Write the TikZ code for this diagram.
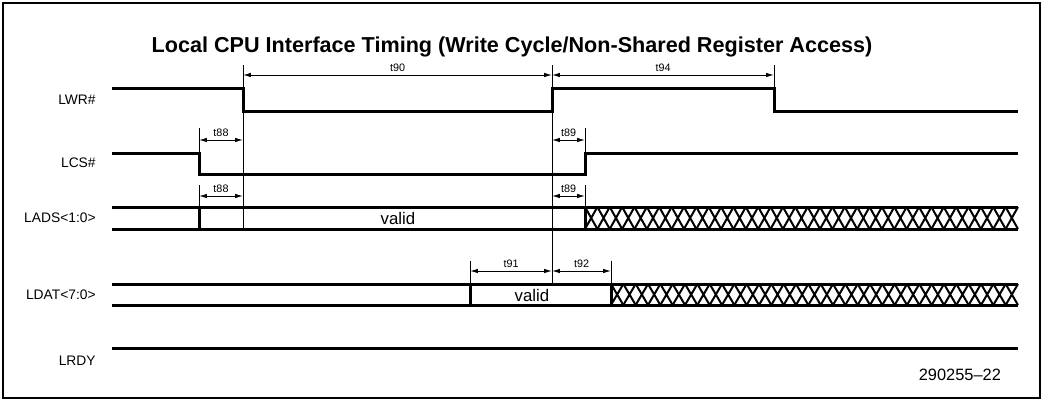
\documentclass[tikz,border=0pt]{standalone}
\usepackage{fontspec}
\setmainfont{Liberation Sans}
\usetikzlibrary{arrows.meta}
\tikzset{
    sigLine/.style={
        line width=1.5pt,
        line join=miter
    },
    refLine/.style={line width=0.5pt},
    hatchLine/.style={line width=1pt},
    tArrow/.style={
        {Latex[length=1.4mm, width=0.8mm]}-{Latex[length=1.4mm, width=0.8mm]},
        line width=0.5pt
    },
    sigName/.style={anchor=east, inner sep=0pt, font=\fontsize{6.9}{8}\selectfont},
    tName/.style={above, inner sep=1.5pt, font=\fontsize{5.4}{6}\selectfont}
}

\begin{document}
\begin{tikzpicture}[x=0.5pt, y=-0.5pt]
    \useasboundingbox (0,0) rectangle (1043,402);

    % Frame and title
    \draw[line width=0.6pt] (3,3) rectangle (1040,398);
    \node[font=\bfseries\fontsize{10.8}{12}\selectfont] (title) at (512,47)
        {Local CPU Interface Timing (Write Cycle/Non-Shared Register Access)};

    % Signal names
    \node[sigName] (lwr)  at (96,100) {LWR\#};
    \node[sigName] (lcs)  at (96,163) {LCS\#};
    \node[sigName] (lads) at (96,218) {LADS<1:0>};
    \node[sigName] (ldat) at (96,295) {LDAT<7:0>};
    \node[sigName] (lrdy) at (96,361) {LRDY};

    % Edges
    \coordinate (csFall) at (199,0);
    \coordinate (wrFall) at (243,0);
    \coordinate (dStart) at (470,0);
    \coordinate (wrRise) at (552,0);
    \coordinate (csRise) at (585,0);
    \coordinate (dEnd)   at (611,0);
    \coordinate (wrOff)  at (774,0);

    % LWR#
    \draw[sigLine] (112,88) -- (243,88) -- (243,111) -- (552,111) -- (552,88)
        -- (774,88) -- (774,111) -- (1018,111);
    % LCS#
    \draw[sigLine] (112,153) -- (199,153) -- (199,174) -- (585,174) -- (585,153)
        -- (1018,153);
    % LADS<1:0>
    \draw[sigLine] (112,207) -- (1018,207);
    \draw[sigLine] (112,229) -- (1018,229);
    \draw[sigLine] (199,207) -- (199,229);
    \draw[sigLine] (585,207) -- (585,229);
    \foreach \i in {0,...,34}
        \draw[hatchLine] ({585+\i*12.371},207) -- ({585+(\i+1)*12.371},229)
            ({585+\i*12.371},229) -- ({585+(\i+1)*12.371},207);
    \node (ladsValid) at (398,218) {\fontsize{8.4}{9}\selectfont valid};
    % LDAT<7:0>
    \draw[sigLine] (112,284) -- (1018,284);
    \draw[sigLine] (112,305) -- (1018,305);
    \draw[sigLine] (470,284) -- (470,305);
    \draw[sigLine] (611,284) -- (611,305);
    \foreach \i in {0,...,32}
        \draw[hatchLine] ({611+\i*12.333},284) -- ({611+(\i+1)*12.333},305)
            ({611+\i*12.333},305) -- ({611+(\i+1)*12.333},284);
    \node (ldatValid) at (532,295) {\fontsize{8.4}{9}\selectfont valid};
    % LRDY
    \draw[sigLine] (112,348) -- (1018,348);

    % Reference lines
    \draw[refLine] (wrFall |- 0,65) -- (wrFall |- 0,229);
    \draw[refLine] (wrRise |- 0,65) -- (wrRise |- 0,284);
    \draw[refLine] (wrOff |- 0,65) -- (wrOff |- 0,88);
    \draw[refLine] (csFall |- 0,128) -- (csFall |- 0,153);
    \draw[refLine] (csFall |- 0,185) -- (csFall |- 0,207);
    \draw[refLine] (csRise |- 0,128) -- (csRise |- 0,153);
    \draw[refLine] (csRise |- 0,185) -- (csRise |- 0,207);
    \draw[refLine] (dStart |- 0,261) -- (dStart |- 0,284);
    \draw[refLine] (dEnd |- 0,261) -- (dEnd |- 0,284);

    % Timing arrows
    \draw[tArrow] (wrFall |- 0,75) -- (wrRise |- 0,75) node[tName, midway] (t90) {t90};
    \draw[tArrow] (wrRise |- 0,75) -- (wrOff |- 0,75) node[tName, midway] (t94) {t94};
    \draw[tArrow] (csFall |- 0,140) -- (wrFall |- 0,140) node[tName, midway] (t88a) {t88};
    \draw[tArrow] (wrRise |- 0,140) -- (csRise |- 0,140) node[tName, midway] (t89a) {t89};
    \draw[tArrow] (csFall |- 0,196) -- (wrFall |- 0,196) node[tName, midway] (t88b) {t88};
    \draw[tArrow] (wrRise |- 0,196) -- (csRise |- 0,196) node[tName, midway] (t89b) {t89};
    \draw[tArrow] (dStart |- 0,271) -- (wrRise |- 0,271) node[tName, midway] (t91) {t91};
    \draw[tArrow] (wrRise |- 0,271) -- (dEnd |- 0,271) node[tName, midway] (t92) {t92};

    % Figure number
    \node[anchor=east, font=\fontsize{8.2}{9}\selectfont] (figNum) at (1008,375) {290255--22};
\end{tikzpicture}
\end{document}
